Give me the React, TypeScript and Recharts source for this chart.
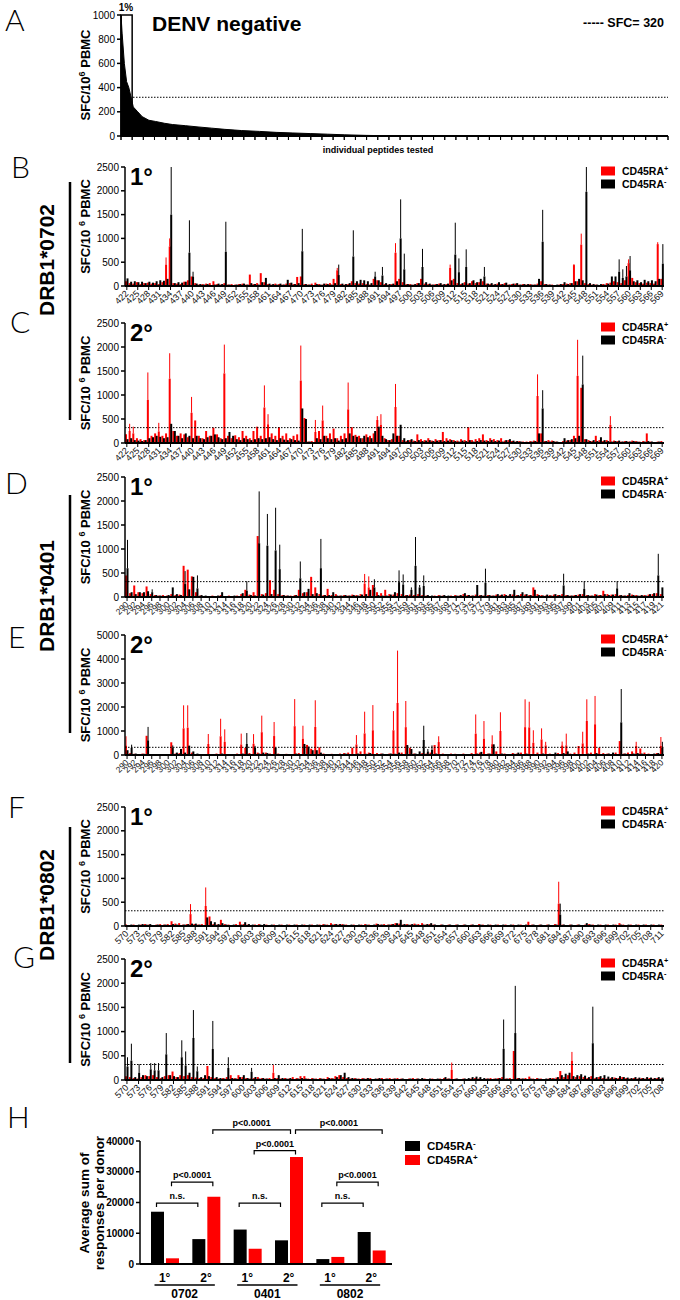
import React from "react";
import { BarChart, Bar, XAxis, YAxis, ReferenceLine, ReferenceArea, ErrorBar, AreaChart, Area } from "recharts";

const RED = "#ff0000";
const BLACK = "#000000";
const BOLD = "'Liberation Sans', Arial, sans-serif";
const NARROW = "'Liberation Sans Narrow', 'Liberation Sans', Arial, sans-serif";

// ---- panel A: DENV negative donors, sorted responses
const aRank = [0, 0.1, 0.3, 0.5, 0.7, 0.9, 1.1, 1.5, 1.9, 2.5, 3.1, 3.9, 4.6, 5.8, 6.9, 8.1, 9.3, 10.8, 12.4, 13.9, 15.4, 17, 18.5, 20, 22, 24, 27, 49];
const aSfc = [1000, 850, 600, 450, 400, 320, 240, 200, 160, 130, 120, 105, 95, 85, 75, 65, 55, 45, 38, 30, 25, 20, 15, 10, 5, 2, 0, 0];
const aYTicks = [0, 200, 400, 600, 800, 1000];

// ---- DRB1*0702 (peptides 422-569)
const bRed = [
  100, 60, 50, 80, 40, 60, 70, 50, 60, 40,
  80, 450, 830, 60, 50, 40, 90, 120, 200, 60,
  30, 40, 50, 60, 100, 40, 30, 60, 30, 40,
  30, 40, 50, 30, 240, 40, 60, 270, 80, 40,
  30, 50, 40, 30, 50, 60, 40, 190, 200, 40,
  30, 50, 70, 40, 30, 50, 60, 150, 330, 40,
  30, 40, 100, 60, 50, 60, 40, 30, 150, 120,
  80, 40, 30, 40, 700, 150, 80, 40, 40, 30,
  60, 150, 50, 40, 30, 40, 50, 30, 40, 380,
  150, 60, 40, 80, 50, 100, 60, 80, 100, 50,
  40, 30, 50, 40, 60, 30, 40, 50, 30, 40,
  30, 40, 30, 50, 100, 40, 30, 30, 20, 30,
  40, 50, 60, 440, 100, 870, 60, 40, 30, 30,
  20, 40, 60, 70, 100, 80, 60, 120, 480, 170,
  80, 60, 50, 70, 60, 50, 880, 150,
];
const bBlack = [
  160, 90, 100, 80, 90, 60, 90, 70, 100, 120,
  110, 150, 1500, 60, 80, 70, 90, 700, 200, 50,
  40, 30, 40, 20, 30, 50, 40, 720, 30, 20,
  30, 40, 50, 30, 60, 40, 30, 80, 170, 50,
  40, 30, 50, 30, 130, 70, 40, 60, 730, 40,
  30, 20, 40, 30, 50, 40, 30, 60, 230, 50,
  40, 60, 620, 100, 130, 120, 100, 60, 200, 120,
  220, 60, 40, 50, 100, 1000, 350, 40, 30, 40,
  60, 400, 80, 50, 30, 40, 60, 40, 50, 120,
  660, 290, 60, 400, 60, 120, 80, 150, 200, 50,
  60, 40, 80, 40, 70, 30, 50, 60, 30, 40,
  40, 30, 30, 150, 930, 40, 30, 20, 30, 40,
  80, 40, 60, 100, 150, 120, 1980, 60, 40, 30,
  40, 30, 50, 200, 200, 300, 170, 200, 330, 100,
  120, 80, 130, 100, 120, 100, 150, 470,
];
const bRedErr = [[433, 600], [434, 1000], [480, 380], [496, 900], [511, 450], [545, 460], [547, 1100], [560, 560], [568, 920]];
const bBlackErr = [[434, 2500], [439, 1380], [440, 300], [449, 1350], [470, 1200], [480, 450], [484, 1170], [490, 300], [492, 400], [497, 1820], [498, 680], [503, 780], [512, 1330], [513, 580], [515, 770], [520, 400], [536, 1600], [548, 2500], [557, 560], [558, 350], [559, 420], [560, 630], [569, 880]];

const cRed = [
  180, 250, 200, 100, 80, 60, 900, 150, 200, 240,
  150, 200, 1340, 250, 150, 200, 180, 120, 630, 470,
  150, 100, 250, 150, 320, 180, 100, 1450, 150, 100,
  160, 120, 250, 150, 100, 250, 340, 150, 740, 390,
  200, 150, 330, 150, 200, 100, 150, 180, 1300, 520,
  30, 40, 230, 250, 470, 150, 200, 300, 100, 150,
  200, 700, 330, 170, 150, 100, 180, 150, 200, 480,
  380, 100, 60, 80, 750, 150, 60, 40, 60, 50,
  180, 80, 60, 100, 50, 80, 60, 230, 100, 80,
  60, 50, 80, 60, 330, 60, 80, 100, 180, 60,
  100, 80, 60, 100, 50, 60, 40, 30, 40, 30,
  30, 40, 50, 980, 200, 40, 60, 50, 30, 20,
  40, 50, 60, 150, 1400, 1150, 80, 60, 40, 150,
  60, 40, 60, 380, 50, 40, 30, 40, 30, 50,
  40, 30, 40, 200, 30, 20, 30, 40,
];
const cBlack = [
  80, 100, 60, 50, 40, 60, 100, 120, 150, 130,
  100, 120, 400, 250, 150, 100, 200, 150, 100, 150,
  100, 80, 120, 150, 180, 120, 80, 100, 230, 150,
  80, 60, 100, 80, 60, 80, 100, 80, 100, 120,
  80, 60, 100, 70, 60, 80, 60, 50, 720, 500,
  30, 20, 100, 80, 150, 100, 80, 100, 50, 80,
  100, 200, 150, 130, 100, 150, 120, 100, 250, 340,
  150, 80, 60, 200, 150, 380, 100, 60, 80, 40,
  60, 40, 50, 60, 40, 50, 60, 40, 50, 60,
  40, 30, 50, 40, 60, 30, 40, 60, 50, 40,
  60, 40, 50, 30, 60, 80, 50, 40, 30, 20,
  20, 30, 40, 200, 720, 40, 30, 40, 30, 20,
  100, 60, 80, 100, 150, 1220, 80, 40, 60, 40,
  120, 60, 40, 30, 40, 50, 30, 40, 30, 40,
  30, 20, 30, 40, 30, 20, 30, 20,
];
const cRedErr = [[423, 400], [424, 340], [428, 1470], [431, 420], [434, 1870], [440, 960], [449, 2050], [460, 1200], [461, 600], [470, 2030], [474, 480], [476, 780], [483, 1260], [491, 560], [492, 600], [496, 1230], [535, 1430], [546, 2150], [555, 560]];
const cBlackErr = [[536, 1100], [547, 1820]];

// ---- DRB1*0401 (1°: 290-421 without 353, 2°: 290-420)
const dRed = [
  450, 80, 240, 100, 80, 220, 60, 40, 30, 40,
  30, 60, 40, 50, 650, 570, 430, 100, 30, 20,
  20, 30, 20, 40, 20, 30, 20, 30, 60, 150,
  50, 100, 1270, 60, 80, 350, 150, 60, 40, 30,
  30, 40, 150, 80, 100, 420, 200, 60, 40, 170,
  40, 60, 30, 40, 30, 50, 40, 60, 280, 200,
  250, 100, 80, 150, 60, 50, 80, 60, 40,
  50, 40, 60, 40, 30, 20, 30, 40, 30, 20,
  30, 40, 30, 60, 40, 30, 50, 40, 30, 40,
  30, 50, 40, 60, 30, 50, 40, 60, 50, 40,
  200, 60, 40, 30, 40, 50, 40, 60, 40, 30,
  40, 50, 60, 40, 30, 60, 40, 130, 60, 50,
  60, 40, 30, 40, 50, 40, 30, 40, 50, 60,
  80, 60,
];
const dBlack = [
  600, 100, 60, 100, 100, 120, 100, 40, 30, 20,
  40, 200, 60, 40, 270, 160, 420, 180, 40, 30,
  20, 20, 30, 100, 20, 20, 30, 20, 80, 130,
  40, 30, 1120, 50, 1070, 60, 970, 580, 40, 30,
  20, 40, 390, 100, 170, 60, 80, 600, 40, 40,
  100, 30, 30, 40, 30, 40, 30, 50, 60, 150,
  200, 40, 30, 30, 50, 100, 310, 260, 40,
  150, 650, 200, 230, 40, 30, 20, 30, 40, 30,
  20, 30, 40, 80, 40, 30, 250, 40, 300, 40,
  30, 60, 50, 40, 60, 150, 40, 100, 60, 40,
  150, 40, 30, 50, 30, 60, 40, 240, 40, 30,
  40, 60, 170, 40, 30, 50, 40, 60, 40, 50,
  180, 40, 30, 80, 40, 30, 40, 30, 60, 80,
  450, 200,
];
const dRedErr = [[348, 480], [349, 430]];
const dBlackErr = [[290, 1190], [296, 160], [304, 540], [307, 450], [319, 330], [322, 2200], [324, 1730], [326, 1860], [327, 1090], [332, 740], [337, 1210], [350, 370], [357, 555], [358, 470], [360, 200], [361, 1250], [362, 250], [363, 450], [378, 590], [397, 485], [402, 330], [410, 330], [420, 900]];

const eRed = [
  400, 80, 50, 40, 60, 800, 40, 30, 40, 30,
  40, 530, 60, 80, 1110, 1140, 100, 40, 30, 40,
  460, 40, 60, 780, 550, 40, 30, 60, 440, 300,
  80, 470, 100, 950, 100, 60, 790, 60, 40, 50,
  40, 1200, 80, 680, 420, 260, 1170, 320, 60, 40,
  50, 40, 60, 80, 100, 300, 440, 150, 900, 100,
  1030, 80, 60, 40, 60, 1030, 2170, 100, 1160, 300,
  60, 40, 80, 60, 100, 415, 540, 60, 40, 60,
  50, 40, 60, 40, 80, 890, 100, 680, 60, 450,
  150, 1000, 60, 40, 80, 60, 100, 1160, 1150, 510,
  100, 650, 400, 60, 40, 80, 400, 400, 60, 100,
  375, 485, 1420, 100, 1280, 305, 80, 60, 40, 100,
  580, 60, 100, 150, 380, 270, 100, 60, 40, 80,
  375,
];
const eBlack = [
  200, 300, 60, 40, 50, 610, 40, 30, 20, 40,
  30, 290, 100, 250, 100, 390, 150, 60, 30, 20,
  40, 30, 20, 60, 40, 30, 20, 40, 60, 460,
  40, 300, 60, 100, 80, 40, 300, 40, 30, 20,
  30, 60, 40, 460, 350, 200, 200, 100, 40, 30,
  20, 30, 40, 60, 40, 30, 60, 40, 50, 80,
  40, 30, 60, 40, 60, 50, 100, 40, 415, 250,
  60, 150, 625, 150, 220, 60, 40, 30, 40, 30,
  40, 30, 20, 40, 30, 60, 130, 40, 60, 445,
  40, 60, 30, 40, 50, 100, 40, 60, 40, 30,
  40, 60, 30, 40, 100, 40, 80, 150, 40, 30,
  40, 30, 60, 40, 80, 40, 30, 60, 100, 40,
  1360, 60, 40, 60, 80, 60, 40, 30, 60, 80,
  300,
];
const eRedErr = [[290, 780], [304, 2070], [305, 2070], [310, 875], [313, 1510], [314, 1070], [318, 890], [321, 870], [323, 1640], [326, 1375], [331, 2330], [333, 1220], [336, 2280], [346, 830], [348, 1805], [350, 2080], [355, 1830], [356, 4350], [358, 2250], [366, 780], [375, 1690], [377, 1415], [379, 820], [381, 1780], [387, 2320], [388, 2220], [389, 1030], [391, 1110], [392, 550], [396, 560], [397, 890], [401, 970], [402, 2320], [404, 2460], [414, 550], [420, 750]];
const eBlackErr = [[291, 430], [295, 1170], [301, 400], [319, 915], [321, 380], [362, 1220], [363, 250], [364, 400], [410, 2750], [420, 550]];

// ---- DRB1*0802 (1°: 570-711, 2°: 570-708)
const fRed = [
  30, 20, 30, 20, 30, 40, 30, 20, 30, 40,
  30, 40, 100, 50, 60, 30, 40, 250, 40, 30,
  40, 420, 200, 40, 30, 130, 40, 30, 20, 40,
  90, 40, 30, 20, 30, 40, 20, 30, 20, 30,
  20, 30, 20, 30, 20, 30, 20, 30, 20, 30,
  20, 30, 40, 30, 60, 40, 30, 40, 30, 20,
  30, 20, 30, 40, 30, 20, 50, 30, 40, 30,
  40, 60, 50, 30, 40, 30, 50, 40, 60, 30,
  40, 30, 20, 30, 20, 30, 20, 30, 20, 30,
  20, 30, 20, 40, 30, 20, 30, 20, 30, 20,
  30, 20, 30, 20, 30, 20, 90, 30, 20, 30,
  20, 30, 20, 40, 470, 30, 20, 30, 20, 30,
  20, 30, 40, 30, 20, 30, 20, 30, 20, 30,
  60, 30, 20, 30, 20, 30, 20, 30, 20, 30,
  20, 30,
];
const fBlack = [
  20, 30, 20, 30, 40, 30, 40, 20, 30, 20,
  30, 20, 40, 30, 20, 30, 40, 50, 50, 30,
  20, 180, 100, 80, 40, 60, 30, 20, 30, 20,
  30, 80, 40, 30, 20, 30, 40, 20, 30, 20,
  30, 20, 30, 20, 30, 20, 30, 20, 30, 20,
  30, 20, 30, 20, 30, 40, 40, 30, 20, 30,
  20, 30, 20, 30, 20, 30, 40, 30, 20, 30,
  40, 60, 130, 40, 30, 40, 30, 20, 30, 40,
  60, 30, 20, 30, 20, 30, 20, 30, 20, 30,
  20, 30, 20, 30, 20, 30, 20, 30, 20, 30,
  20, 30, 20, 30, 20, 30, 20, 30, 20, 30,
  20, 30, 20, 30, 240, 30, 20, 30, 20, 30,
  20, 60, 30, 20, 30, 20, 30, 20, 30, 20,
  30, 20, 30, 20, 30, 20, 30, 20, 30, 20,
  30, 20,
];
const fRedErr = [[587, 460], [591, 810], [684, 930]];
const fBlackErr = [[684, 470]];

const gRed = [
  80, 60, 40, 30, 60, 100, 80, 100, 60, 40,
  80, 100, 175, 60, 100, 80, 100, 60, 50, 40,
  40, 290, 60, 40, 30, 40, 60, 100, 40, 100,
  60, 40, 30, 40, 60, 40, 30, 40, 150, 40,
  30, 40, 30, 60, 40, 80, 80, 30, 40, 30,
  40, 30, 60, 40, 80, 100, 60, 40, 30, 40,
  30, 40, 30, 40, 20, 30, 40, 30, 40, 30,
  40, 30, 20, 30, 40, 30, 20, 30, 20, 30,
  20, 30, 40, 30, 210, 30, 20, 30, 20, 30,
  40, 30, 20, 30, 40, 30, 40, 60, 30, 40,
  600, 40, 30, 40, 70, 30, 40, 30, 20, 30,
  40, 50, 185, 60, 100, 400, 60, 80, 60, 40,
  80, 40, 60, 40, 30, 40, 50, 40, 60, 40,
  30, 40, 30, 40, 30, 40, 30, 40, 30,
];
const gBlack = [
  280, 400, 60, 150, 100, 80, 220, 200, 200, 60,
  530, 100, 80, 60, 470, 300, 150, 870, 180, 60,
  100, 80, 640, 60, 40, 30, 250, 40, 30, 60,
  100, 40, 170, 60, 30, 40, 30, 20, 40, 100,
  40, 30, 40, 20, 30, 40, 30, 20, 30, 20,
  30, 20, 40, 30, 60, 100, 150, 60, 40, 30,
  20, 30, 40, 20, 30, 40, 20, 30, 20, 30,
  20, 30, 20, 30, 20, 30, 40, 20, 30, 20,
  30, 20, 60, 30, 20, 30, 20, 30, 40, 60,
  70, 60, 40, 30, 20, 30, 40, 645, 30, 20,
  970, 40, 30, 20, 30, 20, 30, 20, 30, 40,
  30, 60, 100, 130, 150, 80, 100, 120, 90, 60,
  760, 60, 80, 100, 70, 60, 40, 80, 60, 50,
  40, 60, 50, 40, 60, 50, 40, 60, 50,
];
const gRedErr = [[608, 310], [654, 360], [685, 580]];
const gBlackErr = [[570, 470], [571, 750], [573, 330], [576, 350], [577, 350], [578, 350], [580, 970], [584, 820], [585, 590], [587, 1445], [588, 280], [592, 1220], [596, 470], [602, 250], [667, 1250], [670, 1945], [690, 1515]];

// ---- panel H: average sum of responses per donor
const hAllele = ["0702", "0702", "0401", "0401", "0802", "0802"];
const hStage = ["1°", "2°", "1°", "2°", "1°", "2°"];
const hNeg = [17000, 8100, 11200, 7700, 1600, 10400];
const hPos = [1850, 21900, 5000, 34800, 2300, 4400];

const tick2500 = [0, 500, 1000, 1500, 2000, 2500];
const tick5000 = [0, 1000, 2000, 3000, 4000, 5000];
const tickH = [0, 10000, 20000, 30000, 40000];

function peptideRange(from: number, to: number, missing: number[] = []) {
  const out: number[] = [];
  for (let p = from; p <= to; p++) if (!missing.includes(p)) out.push(p);
  return out;
}

function buildRows(peps: number[], red: number[], black: number[], redErr: number[][], blackErr: number[][]) {
  const rTop = new Map(redErr.map(([p, t]) => [p, t]));
  const bTop = new Map(blackErr.map(([p, t]) => [p, t]));
  return peps.map((p, i) => {
    const r = red[i] ?? 0;
    const b = black[i] ?? 0;
    const rt = rTop.get(p);
    const bt = bTop.get(p);
    return {
      pep: p,
      red: r,
      black: b,
      redErr: rt !== undefined && rt > r ? [0, rt - r] : undefined,
      blackErr: bt !== undefined && bt > b ? [0, bt - b] : undefined,
    };
  });
}

const aRows = aRank.map((x, i) => ({ rank: x, sfc: aSfc[i] }));
const aTicks = Array.from({ length: 50 }, (_, i) => i);

const panels = [
  { id: "B", top: 167, zero: 286, yMax: 2500, yTicks: tick2500, every: 3, ref: false, fs: 9, rows: buildRows(peptideRange(422, 569), bRed, bBlack, bRedErr, bBlackErr) },
  { id: "C", top: 323, zero: 443, yMax: 2500, yTicks: tick2500, every: 3, ref: true, fs: 9, rows: buildRows(peptideRange(422, 569), cRed, cBlack, cRedErr, cBlackErr) },
  { id: "D", top: 477, zero: 597, yMax: 2500, yTicks: tick2500, every: 2, ref: true, fs: 8.5, rows: buildRows(peptideRange(290, 421, [353]), dRed, dBlack, dRedErr, dBlackErr) },
  { id: "E", top: 635, zero: 755, yMax: 5000, yTicks: tick5000, every: 2, ref: true, fs: 8.5, rows: buildRows(peptideRange(290, 420), eRed, eBlack, eRedErr, eBlackErr) },
  { id: "F", top: 807, zero: 926, yMax: 2500, yTicks: tick2500, every: 3, ref: true, fs: 9, rows: buildRows(peptideRange(570, 711), fRed, fBlack, fRedErr, fBlackErr) },
  { id: "G", top: 959, zero: 1080, yMax: 2500, yTicks: tick2500, every: 3, ref: true, fs: 9, rows: buildRows(peptideRange(570, 708), gRed, gBlack, gRedErr, gBlackErr) },
];
const stageLabel: Record<string, string> = { B: "1°", C: "2°", D: "1°", E: "2°", F: "1°", G: "2°" };

const yTickStyle = { fontSize: 10, fill: "#000", fontFamily: NARROW };

function PepTick(props: any) {
  const { x, y, payload, fs } = props;
  return (
    <g transform={`translate(${x},${y}) rotate(-45)`}>
      <text x={0} y={0} dy={fs * 0.35} textAnchor="end" fontSize={fs} fontFamily={NARROW} fill="#111" stroke="none">
        {payload.value}
      </text>
    </g>
  );
}

// tick mark only, for the unlabelled axis of panel A
function MarkTick(props: any) {
  const { x, y } = props;
  return <line x1={x} x2={x} y1={y - 5} y2={y - 1} stroke={BLACK} strokeWidth={1} />;
}

function PeptidePanel({ p }: { p: any }) {
  const mt = 6;
  const xh = 34;
  const h = mt + (p.zero - p.top) + xh;
  return (
    <div style={{ position: "absolute", left: 0, top: p.top - mt }}>
      <BarChart width={680} height={h} data={p.rows} margin={{ top: mt, right: 16, left: 0, bottom: 0 }} barGap={-0.5} barCategoryGap={0}>
        <XAxis
          dataKey="pep"
          interval={p.every - 1}
          height={xh}
          tick={<PepTick fs={p.fs} />}
          tickSize={4}
          tickLine={{ stroke: BLACK, strokeWidth: 1 }}
          axisLine={{ stroke: BLACK, strokeWidth: 2 }}
        />
        <YAxis
          width={125}
          domain={[0, p.yMax]}
          allowDataOverflow
          ticks={p.yTicks}
          tickSize={4}
          tick={yTickStyle}
          tickLine={{ stroke: BLACK, strokeWidth: 1.5 }}
          axisLine={{ stroke: BLACK, strokeWidth: 1.5 }}
        />
        {p.ref && <ReferenceLine y={320} stroke={BLACK} strokeWidth={1} strokeDasharray="1.5 1.5" />}
        <Bar dataKey="red" fill={RED} barSize={2} isAnimationActive={false}>
          <ErrorBar dataKey="redErr" width={0} stroke={RED} strokeWidth={1} direction="y" />
        </Bar>
        <Bar dataKey="black" fill={BLACK} barSize={2} isAnimationActive={false}>
          <ErrorBar dataKey="blackErr" width={0} stroke={BLACK} strokeWidth={1} direction="y" />
        </Bar>
      </BarChart>
    </div>
  );
}

function PanelA() {
  const mt = 6;
  const xh = 12;
  const top = 15;
  const zero = 136;
  return (
    <div style={{ position: "absolute", left: 0, top: top - mt }}>
      <AreaChart width={680} height={mt + (zero - top) + xh} data={aRows} margin={{ top: mt, right: 12, left: 0, bottom: 0 }}>
        <XAxis
          type="number"
          dataKey="rank"
          domain={[0, 49]}
          ticks={aTicks}
          interval={0}
          tick={<MarkTick />}
          tickSize={4}
          tickMargin={1}
          height={xh}
          tickLine={{ stroke: BLACK, strokeWidth: 1 }}
          axisLine={{ stroke: BLACK, strokeWidth: 2 }}
        />
        <YAxis
          width={121}
          domain={[0, 1000]}
          ticks={aYTicks}
          tickSize={4}
          tick={yTickStyle}
          tickLine={{ stroke: BLACK, strokeWidth: 1.5 }}
          axisLine={{ stroke: BLACK, strokeWidth: 1.5 }}
        />
        <Area type="linear" dataKey="sfc" stroke={BLACK} fill={BLACK} fillOpacity={1} isAnimationActive={false} />
        <ReferenceLine y={320} stroke={BLACK} strokeWidth={1} strokeDasharray="1.5 1.5" />
        <ReferenceArea x1={0} x2={1} y1={0} y2={1000} fill="none" stroke={BLACK} strokeWidth={1.5} />
      </AreaChart>
    </div>
  );
}

// H geometry
const H_TOP = 1141;
const H_ZERO = 1264;
const H_LEFT = 140;
const H_RIGHT = 392;
const H_PAD = 4;
const H_BAR = 13;
const H_GAP = 2;

function hBarCenters(k: number) {
  const band = (H_RIGHT - H_LEFT - H_PAD) / hStage.length;
  const start = H_LEFT + H_PAD + band * k;
  const off = Math.floor((band - (2 * H_BAR + H_GAP)) / 2);
  return { neg: start + off + H_BAR / 2, pos: start + off + H_BAR + H_GAP + H_BAR / 2, mid: start + band / 2 };
}
const hY = (v: number) => H_ZERO - (v / 40000) * (H_ZERO - H_TOP);

function HTick(props: any) {
  const { x, y, payload } = props;
  return (
    <text x={x} y={y + 10} textAnchor="middle" fontSize={12} fontWeight={700} fontFamily={NARROW} fill="#000" stroke="none">
      {hStage[payload.index]}
    </text>
  );
}

function PanelH() {
  const mt = 6;
  const xh = 24;
  const rows = hStage.map((s, i) => ({ name: `${hAllele[i]} ${s}`, neg: hNeg[i], pos: hPos[i] }));
  return (
    <div style={{ position: "absolute", left: 0, top: H_TOP - mt }}>
      <BarChart width={H_RIGHT + 8} height={mt + (H_ZERO - H_TOP) + xh} data={rows} margin={{ top: mt, right: 8, left: 0, bottom: 0 }} barGap={H_GAP} barCategoryGap={0}>
        <XAxis dataKey="name" interval={0} height={xh} tick={<HTick />} tickLine={false} padding={{ left: H_PAD, right: 0 }} axisLine={{ stroke: BLACK, strokeWidth: 2 }} />
        <YAxis
          width={H_LEFT}
          domain={[0, 40000]}
          ticks={tickH}
          tickSize={4}
          tick={{ ...yTickStyle, fontWeight: 700 }}
          tickLine={{ stroke: BLACK, strokeWidth: 1.5 }}
          axisLine={{ stroke: BLACK, strokeWidth: 1.5 }}
        />
        <Bar dataKey="neg" fill={BLACK} barSize={H_BAR} isAnimationActive={false} />
        <Bar dataKey="pos" fill={RED} barSize={H_BAR} isAnimationActive={false} />
      </BarChart>
    </div>
  );
}

function LegendPair({ x, y, rows, fs = 10.5, sq = [14, 9], gap = 13 }: any) {
  return (
    <g>
      {rows.map((r: any, i: number) => (
        <g key={i}>
          <rect x={x} y={y + i * gap - sq[1] / 2} width={sq[0]} height={sq[1]} fill={r.color} />
          <text x={x + sq[0] + 7} y={y + i * gap + fs * 0.36} fontSize={fs} fontWeight={700} fontFamily={BOLD} fill="#000">
            {"CD45RA"}
            <tspan dy={-4} fontSize={fs * 0.7}>{r.sign}</tspan>
          </text>
        </g>
      ))}
    </g>
  );
}

function YLabel({ cx, cy, space }: { cx: number; cy: number; space: boolean }) {
  return (
    <text x={cx} y={cy + 4.5} transform={`rotate(-90 ${cx} ${cy})`} textAnchor="middle" fontSize={13} fontWeight={700} fontFamily={BOLD} fill="#000">
      {space ? "SFC/10 " : "SFC/10"}
      <tspan dy={-5} fontSize={9}>6</tspan>
      <tspan dy={5}>{" PBMC"}</tspan>
    </text>
  );
}

function Bracket({ x1, x2, y, label, fs = 9 }: any) {
  return (
    <g>
      <path d={`M${x1},${y + 4} V${y} H${x2} V${y + 4}`} fill="none" stroke={BLACK} strokeWidth={1.2} />
      <text x={(x1 + x2) / 2} y={y - 4} textAnchor="middle" fontSize={fs} fontWeight={700} fontFamily={NARROW} fill="#000">
        {label}
      </text>
    </g>
  );
}

function Overlay() {
  const letters = [
    ["A", 5, 31], ["B", 11, 178], ["C", 10, 333], ["D", 5, 494],
    ["E", 8, 648], ["F", 8, 818], ["G", 13, 968], ["H", 7, 1128],
  ] as [string, number, number][];
  const alleles = [
    { name: "DRB1*0702", cy: 260, y1: 182, y2: 420 },
    { name: "DRB1*0401", cy: 596, y1: 495, y2: 733 },
    { name: "DRB1*0802", cy: 905, y1: 827, y2: 1063 },
  ];
  const c = hStage.map((_, k) => hBarCenters(k));
  const groups = [0, 2, 4].map((k) => ({ name: hAllele[k], x1: c[k].neg, x2: c[k + 1].pos }));
  return (
    <svg width={680} height={1300} style={{ position: "absolute", left: 0, top: 0, pointerEvents: "none" }}>
      {letters.map(([t, x, y]) => (
        <text key={t} x={x} y={y} fontSize={30} fontWeight={300} fontFamily="Lato, 'Open Sans', sans-serif" fill="#000">
          {t}
        </text>
      ))}
      {alleles.map((a) => (
        <g key={a.name}>
          <text x={47} y={a.cy + 7} transform={`rotate(-90 47 ${a.cy})`} textAnchor="middle" fontSize={21} fontWeight={700} fontFamily={BOLD} fill="#000">
            {a.name}
          </text>
          <line x1={70} x2={70} y1={a.y1} y2={a.y2} stroke={BLACK} strokeWidth={2.5} />
        </g>
      ))}

      {/* panel A */}
      <YLabel cx={85} cy={75} space={false} />
      <text x={126} y={11} textAnchor="middle" fontSize={10} fontWeight={700} fontFamily={BOLD}>1%</text>
      <text x={152} y={31} fontSize={21} fontWeight={700} fontFamily={BOLD}>DENV negative</text>
      <text x={664} y={27} textAnchor="end" fontSize={12.5} fontWeight={700} fontFamily={BOLD}>----- SFC= 320</text>
      <text x={378} y={153} textAnchor="middle" fontSize={9} fontWeight={700} fontFamily={BOLD}>individual peptides tested</text>

      {panels.map((p) => (
        <g key={p.id}>
          <YLabel cx={85} cy={(p.top + p.zero) / 2} space />
          <text x={130} y={p.top + 18} fontSize={24} fontWeight={700} fontFamily={BOLD}>{stageLabel[p.id]}</text>
          <LegendPair
            x={601}
            y={p.top + 4}
            rows={[{ color: RED, sign: "+" }, { color: BLACK, sign: "-" }]}
          />
        </g>
      ))}

      {/* panel H */}
      <text x={84} y={1208} transform="rotate(-90 84 1203)" textAnchor="middle" fontSize={13.5} fontWeight={700} fontFamily={BOLD}>Average sum of</text>
      <text x={99} y={1208} transform="rotate(-90 99 1203)" textAnchor="middle" fontSize={13.5} fontWeight={700} fontFamily={BOLD}>responses per donor</text>
      <LegendPair x={405} y={1146} gap={14} fs={11.5} sq={[15, 10]} rows={[{ color: BLACK, sign: "-" }, { color: RED, sign: "+" }]} />
      {groups.map((g) => (
        <g key={g.name}>
          <line x1={g.x1 - 2} x2={g.x2 + 2} y1={1285} y2={1285} stroke={BLACK} strokeWidth={1.5} />
          <text x={(g.x1 + g.x2) / 2} y={1298} textAnchor="middle" fontSize={12} fontWeight={700} fontFamily={NARROW}>{g.name}</text>
        </g>
      ))}
      {[0, 2, 4].map((k) => (
        <g key={k}>
          <Bracket x1={c[k].neg} x2={c[k + 1].neg} y={hY(19800)} label="n.s." />
          {k !== 2 && <Bracket x1={c[k].pos} x2={c[k + 1].pos} y={hY(26600)} label="p<0.0001" />}
        </g>
      ))}
      <Bracket x1={c[2].pos} x2={c[3].pos} y={hY(36900)} label="p<0.0001" />
      <Bracket x1={c[1].pos} x2={c[3].pos - 5} y={hY(43600)} label="p<0.0001" />
      <Bracket x1={c[3].pos} x2={c[5].pos + 4} y={hY(43600)} label="p<0.0001" />
    </svg>
  );
}

export default function App() {
  return (
    <div style={{ position: "absolute", left: 0, top: 0, width: 680, height: 1300, background: "#fff", fontFamily: BOLD }}>
      <PanelA />
      {panels.map((p) => (
        <PeptidePanel key={p.id} p={p} />
      ))}
      <PanelH />
      <Overlay />
    </div>
  );
}
